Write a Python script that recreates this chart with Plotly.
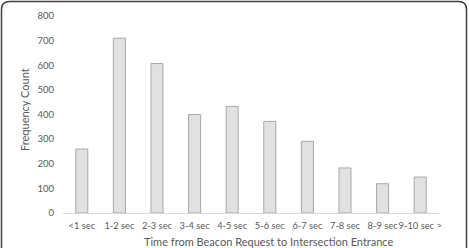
import plotly.graph_objects as go

categories = ["<1 sec", "1-2 sec", "2-3 sec", "3-4 sec", "4-5 sec", "5-6 sec",
              "6-7 sec", "7-8 sec", "8-9 sec", "9-10 sec >"]
counts = [260, 710, 607, 400, 433, 372, 291, 183, 119, 146]
y_ticks = [0, 100, 200, 300, 400, 500, 600, 700, 800]

W, H = 469, 248
L, R, T, B = 63, 30, 16, 35
pw, ph = W - L - R, H - T - B

def px(x):
    return (x - L) / pw

def py(y):
    return (H - B - y) / ph

fig = go.Figure(go.Bar(
    x=categories, y=counts, width=0.32,
    marker=dict(color="#e1e1e1", line=dict(color="#a8a8a8", width=1)),
))

font = "Lato, 'Open Sans', sans-serif"
fig.update_layout(
    width=W, height=H,
    margin=dict(l=L, r=R, t=T, b=B, autoexpand=False),
    paper_bgcolor="white", plot_bgcolor="white",
    showlegend=False,
    font=dict(family=font, color="#595959", size=9),
    xaxis=dict(showgrid=False, showline=True, linecolor="#d9d9d9", linewidth=1,
               ticks="", tickangle=0, automargin=False,
               tickfont=dict(size=9.3, color="#595959"), ticklabelstandoff=4),
    yaxis=dict(range=[0, 800], tickvals=y_ticks, showgrid=False, zeroline=False,
               showline=False, ticks="", automargin=False,
               tickfont=dict(size=9.5, color="#595959"), ticklabelstandoff=8),
)

fig.add_annotation(text="Time from Beacon Request to Intersection Entrance",
                   xref="paper", yref="paper", x=px(269), y=py(241),
                   xanchor="center", yanchor="middle",
                   showarrow=False, font=dict(size=11, color="#595959"))
fig.add_annotation(text="Frequency Count", textangle=-90,
                   xref="paper", yref="paper", x=px(24), y=py(110),
                   xanchor="center", yanchor="middle",
                   showarrow=False, font=dict(size=11, color="#595959"))

# rounded outer frame
x0, x1, y0, y1, r = 1.5, 466.5, 1.5, 252, 8
path = (f"M {px(x0)},{py(y1)} L {px(x0)},{py(y0 + r)} "
        f"Q {px(x0)},{py(y0)} {px(x0 + r)},{py(y0)} "
        f"L {px(x1 - r)},{py(y0)} Q {px(x1)},{py(y0)} {px(x1)},{py(y0 + r)} "
        f"L {px(x1)},{py(y1)}")
fig.add_shape(type="path", path=path, xref="paper", yref="paper",
              line=dict(color="#404040", width=1.5))

fig.write_html("out.html")
